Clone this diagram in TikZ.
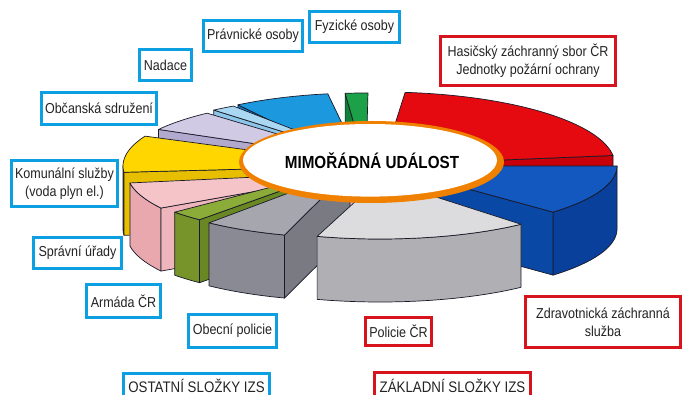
\documentclass[tikz,border=0pt]{standalone}
\usepackage{fontspec}
\setmainfont{Liberation Sans}[FakeStretch=0.87]
\definecolor{boxblue}{RGB}{12,160,226}
\definecolor{boxred}{RGB}{215,20,30}
\definecolor{txt}{RGB}{35,35,35}
\definecolor{edgec}{RGB}{25,25,40}
\definecolor{redT}{RGB}{228,10,16}
\definecolor{redS}{RGB}{200,0,10}
\definecolor{dblueT}{RGB}{18,88,190}
\definecolor{dblueS}{RGB}{10,72,165}
\definecolor{dblueO}{RGB}{8,64,155}
\definecolor{lgrayT}{RGB}{220,220,222}
\definecolor{lgrayO}{RGB}{176,176,180}
\definecolor{dgrayT}{RGB}{166,166,174}
\definecolor{dgrayO}{RGB}{138,138,148}
\definecolor{dgrayS}{RGB}{122,122,130}
\definecolor{oliveT}{RGB}{140,172,58}
\definecolor{oliveO}{RGB}{118,148,42}
\definecolor{oliveS}{RGB}{105,135,35}
\definecolor{pinkT}{RGB}{244,196,200}
\definecolor{pinkO}{RGB}{232,168,174}
\definecolor{pinkS}{RGB}{238,182,188}
\definecolor{yelT}{RGB}{255,214,0}
\definecolor{yelS}{RGB}{232,190,0}
\definecolor{yelO}{RGB}{220,180,0}
\definecolor{lavT}{RGB}{208,202,228}
\definecolor{lavS}{RGB}{178,170,206}
\definecolor{lbluT}{RGB}{170,216,242}
\definecolor{lbluS}{RGB}{140,198,232}
\definecolor{pblueT}{RGB}{28,152,222}
\definecolor{pblueS}{RGB}{18,118,192}
\definecolor{greenT}{RGB}{28,160,72}
\definecolor{greenS}{RGB}{16,128,56}
\definecolor{orangeE}{RGB}{240,128,0}
\def\pieh{63}
% top face: cx cy a b t1 t2 colour
\newcommand{\PieTop}[7]{\filldraw[pieedge, fill=#7] (#1,#2) -- plot[domain=#5:#6, samples=40, variable=\q] ({#1+#3*cos(\q)},{#2-#4*sin(\q)}) -- cycle;}
% radial cut face: cx cy a b t colour
\newcommand{\PieCut}[6]{\filldraw[pieedge, fill=#6] (#1,#2) -- ({#1+#3*cos(#5)},{#2-#4*sin(#5)}) -- ++(0,\pieh) -- (#1,{#2+\pieh}) -- cycle;}
% outer face: cx cy a b ta tb colour
\newcommand{\PieOut}[7]{\filldraw[pieedge, fill=#7] plot[domain=#5:#6, samples=30, variable=\q] ({#1+#3*cos(\q)},{#2-#4*sin(\q)}) -- plot[domain=#6:#5, samples=30, variable=\q] ({#1+#3*cos(\q)},{#2+\pieh-#4*sin(\q)}) -- cycle;}
\begin{document}
\begin{tikzpicture}[x=1pt, y=-1pt,
  pieedge/.style={draw=edgec, line width=0.7pt, line join=round},
  bluebox/.style={draw=boxblue, line width=2.6pt, fill=white, inner sep=0pt, align=center, text=txt, font=\fontsize{14.4}{18}\selectfont},
  redbox/.style={bluebox, draw=boxred},
  grouptext/.style={inner sep=0pt, text=txt, font=\fontsize{15.3}{18}\selectfont}]
\fill[white] (0,0) rectangle (684,395);
\useasboundingbox (0,0) rectangle (684,395);
% green (Fyzicke osoby)
\PieCut{366}{165}{226}{72}{95.3}{greenS}
\PieTop{366}{165}{226}{72}{89.5}{95.3}{greenT}
% blue (Pravnicke osoby)
\PieCut{362}{165}{226}{72}{123.3}{pblueS}
\PieTop{362}{165}{226}{72}{98.7}{123.3}{pblueT}
% light blue (Nadace)
\PieCut{367}{158}{236}{63}{130.5}{lbluS}
\PieTop{367}{158}{236}{63}{124.5}{130.5}{lbluT}
% red (HZS)
\PieCut{382}{165}{233}{73}{7.5}{redS}
\PieTop{382}{165}{233}{73}{7.5}{84.3}{redT}
% lavender (Obcanska sdruzeni)
\PieCut{365}{160}{236}{63}{151}{lavS}
\PieTop{365}{160}{236}{63}{132}{151}{lavT}
% yellow (Komunalni sluzby)
\PieOut{368}{166}{245}{72}{180}{185}{yelO}
\PieCut{368}{166}{245}{72}{185}{yelS}
\PieTop{368}{166}{245}{72}{155.5}{185}{yelT}
% pink (Spravni urady)
\PieOut{365}{172}{238}{70}{189}{211}{pinkO}
\PieCut{365}{172}{238}{70}{211}{pinkS}
\PieTop{365}{172}{238}{70}{189}{211}{pinkT}
% dark blue (ZZS)
\PieOut{384}{166}{233}{67}{-43.5}{0}{dblueO}
\PieCut{384}{166}{233}{67}{-43.5}{dblueS}
\PieTop{384}{166}{233}{67}{-43.5}{0}{dblueT}
% olive (Armada)
\PieOut{345}{168}{224}{68}{220.5}{229.5}{oliveO}
\PieCut{345}{168}{224}{68}{229.5}{oliveS}
\PieTop{345}{168}{224}{68}{220.5}{229.5}{oliveT}
% dark gray (Obecni policie)
\PieOut{350}{170}{224}{68}{231}{253}{dgrayO}
\PieCut{350}{170}{224}{68}{253}{dgrayS}
\PieTop{350}{170}{224}{68}{231}{253}{dgrayT}
% light gray (Policie CR)
\PieOut{380}{179}{215}{60}{253}{311}{lgrayO}
\PieTop{380}{179}{215}{60}{253}{311}{lgrayT}
% central ellipse
\fill[orangeE] (371.5,162) ellipse [x radius=132.5, y radius=41];
\fill[white] (370,160.3) ellipse [x radius=127, y radius=36.3];
\node[font=\fontsize{17.5}{20}\selectfont\bfseries, text=black] (event) at (372,161) {MIMOŘÁDNÁ UDÁLOST};
% labels
\node[bluebox, minimum width=90, minimum height=31] (fyz) at (354.5,27) {Fyzické osoby};
\node[bluebox, minimum width=99, minimum height=31] (prav) at (253,36) {Právnické osoby};
\node[bluebox, minimum width=52, minimum height=31] (nad) at (165.5,65) {Nadace};
\node[bluebox, minimum width=115, minimum height=32] (obc) at (99,108.5) {Občanská sdružení};
\node[bluebox, minimum width=106, minimum height=46] (kom) at (64.5,183.5) {Komunální služby\\(voda plyn el.)};
\node[bluebox, minimum width=88, minimum height=31] (spr) at (77.5,253) {Správní úřady};
\node[bluebox, minimum width=74, minimum height=33] (arm) at (123.5,301) {Armáda ČR};
\node[bluebox, minimum width=88, minimum height=33] (obp) at (232.5,331) {Obecní policie};
\node[redbox, minimum width=66, minimum height=28] (pcr) at (398.5,331.5) {Policie ČR};
\node[redbox, minimum width=155, minimum height=51] (zzs) at (603,322) {Zdravotnická záchranná\\služba};
\node[redbox, minimum width=175, minimum height=49] (hzs) at (528,61) {Hasičský záchranný sbor ČR\\Jednotky požární ochrany};
% group boxes (cut off by the lower edge)
\draw[draw=boxblue, line width=2.6pt, fill=white] (123.3,373.3) rectangle (269.7,402);
\node[grouptext] (ost) at (196.5,385.5) {OSTATNÍ SLOŽKY IZS};
\draw[draw=boxred, line width=2.6pt, fill=white] (374.3,372.3) rectangle (530.7,402);
\node[grouptext] (zakl) at (452.5,385.5) {ZÁKLADNÍ SLOŽKY IZS};
\end{tikzpicture}
\end{document}
